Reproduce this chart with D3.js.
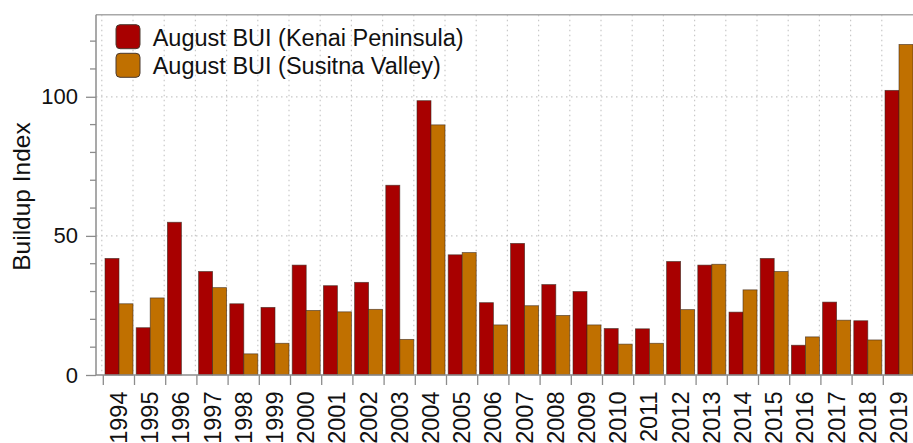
<!DOCTYPE html>
<html>
<head>
<meta charset="utf-8">
<script src="https://cdn.jsdelivr.net/npm/d3@7"></script>
<style>
  body { margin: 0; background: #fff; }
  text { font-family: "Liberation Sans", Arial, sans-serif; fill: #111; }
</style>
</head>
<body>
<div id="chart"></div>
<script>
// Data
const years = ["1994", "1995", "1996", "1997", "1998", "1999", "2000", "2001", "2002", "2003",
    "2004", "2005", "2006", "2007", "2008", "2009", "2010", "2011", "2012", "2013",
    "2014", "2015", "2016", "2017", "2018", "2019"];
const kenai = [41.9, 17.0, 54.9, 37.2, 25.6, 24.3, 39.5, 32.1, 33.3, 68.2,
    98.6, 43.2, 26.0, 47.3, 32.5, 30.0, 16.7, 16.6, 40.8, 39.5,
    22.6, 41.9, 10.7, 26.2, 19.5, 102.3];
const susitna = [25.6, 27.7, 0, 31.4, 7.6, 11.4, 23.2, 22.7, 23.6, 12.8,
    89.9, 44.0, 18.0, 24.9, 21.4, 18.0, 11.1, 11.4, 23.5, 39.8,
    30.6, 37.2, 13.7, 19.7, 12.6, 118.8];
const seriesNames = ["August BUI (Kenai Peninsula)", "August BUI (Susitna Valley)"];
const seriesColours = ["#a80000", "#c07000"];
const yMajorTicks = [0, 50, 100];
const yMinorTicks = [10, 20, 30, 40, 60, 70, 80, 90, 110, 120];

const width = 913;
const height = 443;
const margin = { top: 14.7, left: 96, bottom: 68 };
const plotBottom = height - margin.bottom;

const svg = d3.select("#chart")
    .append("svg")
    .attr("width", width)
    .attr("height", height);

// Scales
const yScale = d3.scaleLinear()
    .domain([0, 129.5])
    .range([plotBottom, margin.top]);

const xScale = d3.scaleBand()
    .domain(years)
    .range([103.3, 103.3 + 31.2 * years.length])
    .padding(0);

const xSub = d3.scaleBand()
    .domain([0, 1])
    .range([1.7, xScale.bandwidth() - 1.5])
    .padding(0);

// Grid
const grid = svg.append("g")
    .attr("stroke", "#c8c8c8")
    .attr("stroke-dasharray", "1.5,3.5")
    .attr("stroke-width", 1.2);

grid.selectAll("line.v")
    .data(years)
    .enter()
    .append("line")
    .attr("x1", d => xScale(d) - 1.5)
    .attr("x2", d => xScale(d) - 1.5)
    .attr("y1", margin.top)
    .attr("y2", plotBottom);

grid.selectAll("line.h")
    .data([50, 100])
    .enter()
    .append("line")
    .attr("x1", margin.left)
    .attr("x2", width)
    .attr("y1", d => yScale(d))
    .attr("y2", d => yScale(d));

// Bars
const rows = years.map((y, i) => ({ year: y, values: [kenai[i], susitna[i]] }));

svg.append("g")
    .selectAll("g")
    .data(rows)
    .enter()
    .append("g")
    .attr("transform", d => "translate(" + xScale(d.year) + ",0)")
    .selectAll("rect")
    .data(d => d.values.map((v, k) => ({ k: k, v: v })).filter(e => e.v > 0))
    .enter()
    .append("rect")
    .attr("x", d => xSub(d.k))
    .attr("width", xSub.bandwidth())
    .attr("y", d => yScale(d.v))
    .attr("height", d => plotBottom - yScale(d.v))
    .attr("fill", d => seriesColours[d.k])
    .attr("stroke", "#3a2a20")
    .attr("stroke-opacity", 0.7)
    .attr("stroke-width", 0.8);

// Frame lines
const axisColour = "#8c8c8c";
svg.append("line")
    .attr("x1", margin.left).attr("x2", width)
    .attr("y1", margin.top).attr("y2", margin.top)
    .attr("stroke", "#a8a8a8").attr("stroke-width", 1.5);

// Y axis
const yAxisG = svg.append("g")
    .attr("transform", "translate(" + margin.left + ",0)");

yAxisG.call(d3.axisLeft(yScale).tickValues(yMajorTicks).tickSize(10).tickPadding(8))
    .call(g => g.select(".domain").remove());

yAxisG.selectAll(".minor")
    .data(yMinorTicks)
    .enter()
    .append("line")
    .attr("class", "minor")
    .attr("x1", -6).attr("x2", 0)
    .attr("y1", d => yScale(d)).attr("y2", d => yScale(d));

yAxisG.selectAll("line")
    .attr("stroke", axisColour)
    .attr("stroke-width", 1.3);

yAxisG.selectAll("text")
    .attr("font-size", 22)
    .attr("font-family", "Liberation Sans, Arial, sans-serif")
    .attr("fill", "#111");

yAxisG.append("line")
    .attr("x1", 0).attr("x2", 0)
    .attr("y1", margin.top).attr("y2", plotBottom)
    .attr("stroke", axisColour).attr("stroke-width", 1.5);

// X axis
const xAxisG = svg.append("g")
    .attr("transform", "translate(0," + plotBottom + ")");

xAxisG.append("line")
    .attr("x1", margin.left).attr("x2", width)
    .attr("y1", 0).attr("y2", 0)
    .attr("stroke", axisColour).attr("stroke-width", 1.5);

xAxisG.selectAll("line.tick")
    .data(years)
    .enter()
    .append("line")
    .attr("class", "tick")
    .attr("x1", d => xScale(d)).attr("x2", d => xScale(d))
    .attr("y1", 0).attr("y2", 10)
    .attr("stroke", axisColour).attr("stroke-width", 1.3);

xAxisG.selectAll("text")
    .data(years)
    .enter()
    .append("text")
    .attr("transform", d => "translate(" + (xScale(d) + xScale.bandwidth() / 2 + 8) + ",16.5) rotate(-90)")
    .attr("text-anchor", "end")
    .attr("font-size", 23.5)
    .text(d => d);

// Y title
svg.append("text")
    .attr("transform", "translate(30,196.5) rotate(-90)")
    .attr("text-anchor", "middle")
    .attr("font-size", 24.5)
    .text("Buildup Index");

// Legend
const legend = svg.append("g")
    .selectAll("g")
    .data(seriesNames)
    .enter()
    .append("g")
    .attr("transform", (d, i) => "translate(116," + (24.7 + i * 28.6) + ")");

legend.append("rect")
    .attr("width", 24)
    .attr("height", 24)
    .attr("rx", 4)
    .attr("fill", (d, i) => seriesColours[i])
    .attr("stroke", "#4a3a30")
    .attr("stroke-width", 1);

legend.append("text")
    .attr("x", 36.7)
    .attr("y", 21)
    .attr("font-size", 23.5)
    .text(d => d);
</script>
</body>
</html>
